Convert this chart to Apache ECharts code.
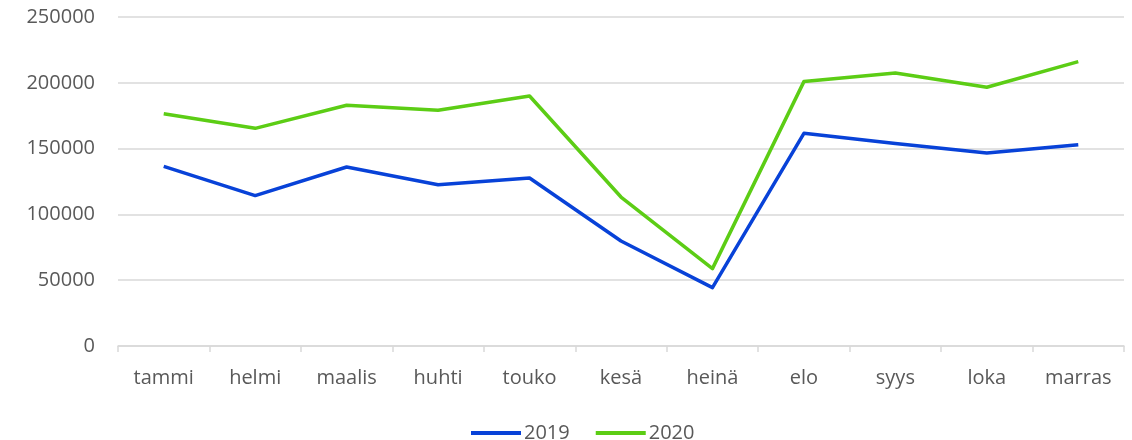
<!DOCTYPE html>
<html>
<head>
<meta charset="utf-8">
<script src="https://cdn.jsdelivr.net/npm/echarts@6/dist/echarts.min.js"></script>
<style>
    html, body { margin: 0; padding: 0; background: #fff; }
    #chart { width: 1132px; height: 440px; }
</style>
</head>
<body>
<div id="chart"></div>
<script>
    // kuukaudet
    const months = ['tammi', 'helmi', 'maalis', 'huhti', 'touko', 'kesä', 'heinä', 'elo', 'syys', 'loka', 'marras']
    const values2019 = [136500, 114300, 136000, 122600, 127700, 79800, 44400, 161600, 153800, 146700, 153000]
    const values2020 = [176500, 165400, 182900, 179100, 190000, 113200, 58800, 200900, 207400, 196600, 216100]
    const yTicks = [0, 50000, 100000, 150000, 200000, 250000]

    const textColor = '#595959'
    const lineGrey = '#d9d9d9'
    const font = '"Open Sans", "Noto Sans", sans-serif'

    let myChart = echarts.init(document.getElementById('chart'))
    let option = {
        animation: false,
        textStyle: { fontFamily: font },
        grid: { left: 118, right: 8, top: 17, bottom: 94, containLabel: false },
        legend: {
            top: 418,
            left: 466,
            itemWidth: 50,
            itemHeight: 4,
            itemGap: 26,
            icon: 'rect',
            textStyle: { color: textColor, fontSize: 20, fontFamily: font, padding: [0, 0, 0, -2] },
            data: ['2019', '2020']
        },
        xAxis: {
            type: 'category',
            data: months,
            boundaryGap: true,
            axisLine: { lineStyle: { color: lineGrey, width: 1.5 } },
            axisTick: { show: true, alignWithLabel: false, length: 6, lineStyle: { color: lineGrey, width: 1.5 } },
            axisLabel: { color: textColor, fontSize: 20, margin: 22, fontFamily: font }
        },
        yAxis: {
            type: 'value',
            min: yTicks[0],
            max: yTicks[yTicks.length - 1],
            interval: 50000,
            axisLine: { show: false },
            axisTick: { show: false },
            splitLine: { lineStyle: { color: lineGrey, width: 1.5 } },
            axisLabel: {
                color: textColor, fontSize: 20, margin: 23, fontFamily: font,
                formatter: function (value) {
                    return String(value)
                }
            }
        },
        series: [{
            name: '2019',
            type: 'line',
            data: values2019,
            symbol: 'none',
            color: '#0842d8',
            lineStyle: { width: 3.5, color: '#0842d8', join: 'round' }
        }, {
            name: '2020',
            type: 'line',
            data: values2020,
            symbol: 'none',
            color: '#5ccd15',
            lineStyle: { width: 3.5, color: '#5ccd15', join: 'round' }
        }]
    }
    myChart.setOption(option)
</script>
</body>
</html>
